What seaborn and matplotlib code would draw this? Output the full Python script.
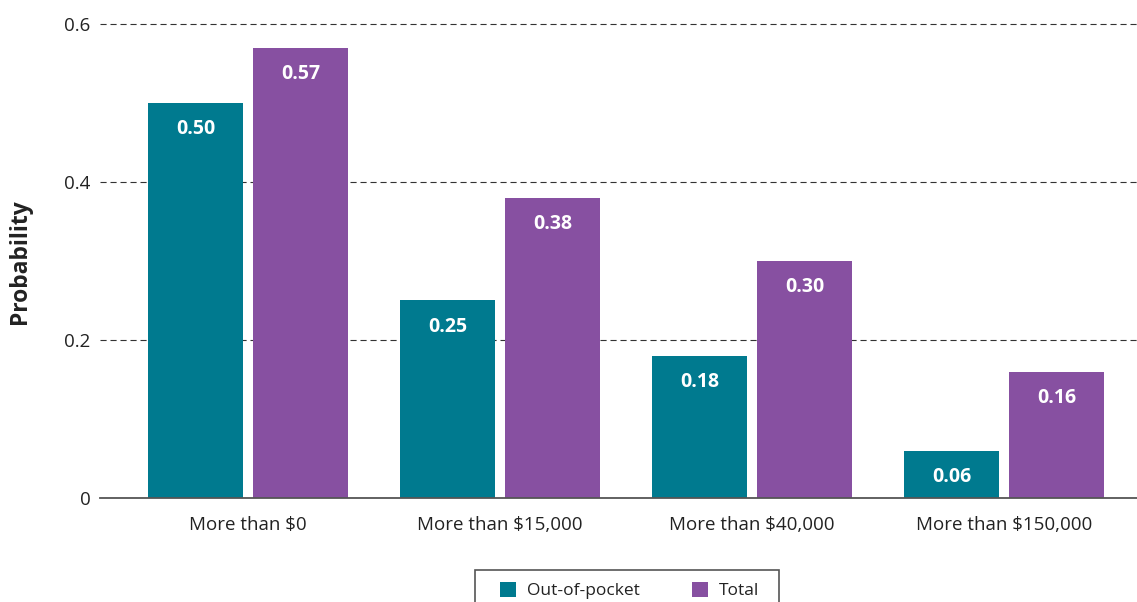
import matplotlib
matplotlib.use("Agg")
import matplotlib.pyplot as plt
from matplotlib.patches import Rectangle
import seaborn as sns
import pandas as pd

# Probability of exceeding each cost threshold
categories = ["More than $0", "More than $15,000", "More than $40,000", "More than $150,000"]
series_names = ["Out-of-pocket", "Total"]
out_of_pocket = [0.50, 0.25, 0.18, 0.06]
total = [0.57, 0.38, 0.30, 0.16]
y_ticks = [0, 0.2, 0.4, 0.6]
y_tick_labels = ["0", "0.2", "0.4", "0.6"]

colors = {"Out-of-pocket": "#007A8F", "Total": "#8750A1"}

sns.set_theme(style="white")
plt.rcParams["font.family"] = ["Open Sans", "DejaVu Sans"]

df = pd.DataFrame({
    "category": categories * 2,
    "series": [series_names[0]] * len(categories) + [series_names[1]] * len(categories),
    "value": out_of_pocket + total,
})

W, H = 1137, 602
fig = plt.figure(figsize=(W / 100, H / 100), dpi=100)
ax = fig.add_axes([100 / W, 1 - 498 / H, (W - 100) / W, (498 - 16) / H])

sns.barplot(data=df, x="category", y="value", hue="series", order=categories,
            hue_order=series_names, palette=colors, width=0.833, gap=0.095,
            saturation=1, linewidth=0, ax=ax, legend=True, errorbar=None)

ax.set_xlim(-0.587, 3.528)
ax.set_ylim(0, 0.61)
ax.set_yticks(y_ticks)
ax.set_yticklabels(y_tick_labels)
ax.set_xlabel("")
ax.set_ylabel("Probability", fontsize=16.5, fontweight="bold", color="#222222")
ax.yaxis.set_label_coords(-0.0655, 0.49)

ax.tick_params(axis="both", length=0, labelsize=13.5, labelcolor="#222222")
ax.tick_params(axis="y", pad=7)
ax.tick_params(axis="x", pad=13)

ax.set_axisbelow(True)
ax.yaxis.grid(True, color="#333333", linewidth=0.8, linestyle=(0, (5.5, 3.5)))
ax.xaxis.grid(False)
for side in ["left", "right", "top"]:
    ax.spines[side].set_visible(False)
ax.spines["bottom"].set_color("#555555")
ax.spines["bottom"].set_linewidth(1.3)
ax.spines["bottom"].set_zorder(5)

# Value labels inside the top of each bar
for container, values in zip(ax.containers, [out_of_pocket, total]):
    for patch, v in zip(container.patches, values):
        ax.annotate(f"{v:.2f}", (patch.get_x() + patch.get_width() / 2, patch.get_height()),
                    xytext=(0, -19), textcoords="offset points", ha="center", va="center",
                    color="white", fontsize=14, fontweight="bold")

# Legend box below the plot, entries laid out inside a wider frame
fig.patches.append(Rectangle((475 / W, 1 - 620 / H), 304 / W, 50 / H,
                             transform=fig.transFigure, facecolor="white",
                             edgecolor="#555555", linewidth=1.2, zorder=1))

handles, labels = ax.get_legend_handles_labels()
ax.get_legend().remove()
leg = fig.legend(handles, labels, loc="upper left", ncol=2,
                 bbox_to_anchor=(500 / W, 1 - 582 / H),
                 frameon=False, fontsize=12.5, handlelength=0.95,
                 handleheight=0.95, handletextpad=0.6, borderpad=0,
                 borderaxespad=0, columnspacing=3.0)
leg.set_zorder(2)
for t in leg.get_texts():
    t.set_color("#222222")

fig.savefig("out.png", dpi=100)
